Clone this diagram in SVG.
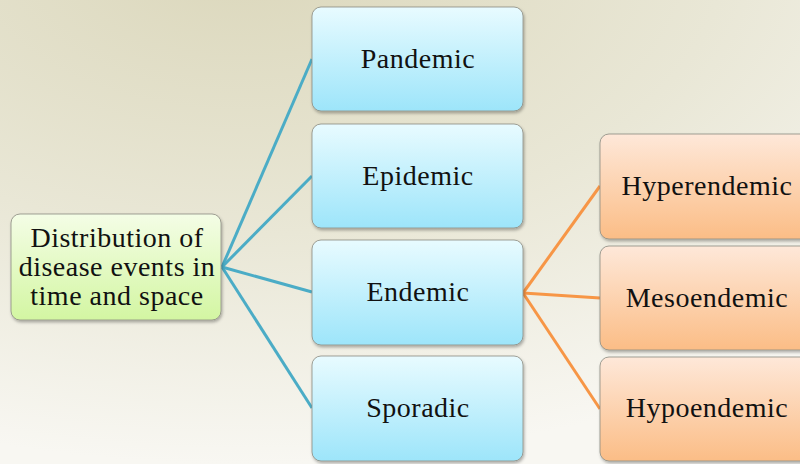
<svg xmlns="http://www.w3.org/2000/svg" width="800" height="464" viewBox="0 0 800 464">
<defs>
<radialGradient id="bg" cx="0.3" cy="-0.1" r="1.1">
<stop offset="0" stop-color="#dbd7bb"/>
<stop offset="0.55" stop-color="#e9e7d6"/>
<stop offset="1" stop-color="#f8f7f2"/>
</radialGradient>
<linearGradient id="gBlue" x1="0" y1="0" x2="0" y2="1">
<stop offset="0" stop-color="#e8fbff"/>
<stop offset="1" stop-color="#9de5fa"/>
</linearGradient>
<linearGradient id="gOrange" x1="0" y1="0" x2="0" y2="1">
<stop offset="0" stop-color="#fee8d9"/>
<stop offset="1" stop-color="#fbbd86"/>
</linearGradient>
<linearGradient id="gGreen" x1="0" y1="0" x2="0" y2="1">
<stop offset="0" stop-color="#f4fde6"/>
<stop offset="1" stop-color="#d3f6a2"/>
</linearGradient>
<filter id="sh" x="-10%" y="-10%" width="120%" height="125%">
<feDropShadow dx="1" dy="2" stdDeviation="1.5" flood-color="#000" flood-opacity="0.3"/>
</filter>
</defs>
<style>
.box{stroke:#8a8a80;stroke-width:0.8;filter:url(#sh)}
.blue{fill:url(#gBlue)}
.orange{fill:url(#gOrange)}
.green{fill:url(#gGreen)}
text{font-family:"Liberation Serif","DejaVu Serif",serif;font-size:28px;fill:#111;text-anchor:middle;letter-spacing:0.5px}
.cb{stroke:#4bacc6;stroke-width:3;fill:none}
.co{stroke:#f79646;stroke-width:3;fill:none}
</style>
<rect width="800" height="464" fill="url(#bg)"/>
<g id="connectors">
<line class="cb" x1="222" y1="267" x2="312" y2="59"/>
<line class="cb" x1="222" y1="267" x2="312" y2="176"/>
<line class="cb" x1="222" y1="267" x2="312" y2="292"/>
<line class="cb" x1="222" y1="267" x2="312" y2="408"/>
<line class="co" x1="523" y1="293" x2="600" y2="186"/>
<line class="co" x1="523" y1="293" x2="600" y2="298"/>
<line class="co" x1="523" y1="293" x2="600" y2="409"/>
</g>
<g id="root">
<rect class="box green" x="11" y="214" width="210" height="106" rx="9"/>
<text x="117" y="247">Distribution of</text>
<text x="117" y="276">disease events in</text>
<text x="117" y="305">time and space</text>
</g>
<g id="pandemic">
<rect class="box blue" x="312" y="7" width="211" height="104" rx="9"/>
<text x="418" y="68">Pandemic</text>
</g>
<g id="epidemic">
<rect class="box blue" x="312" y="124" width="211" height="104" rx="9"/>
<text x="418" y="185">Epidemic</text>
</g>
<g id="endemic">
<rect class="box blue" x="312" y="240" width="211" height="105" rx="9"/>
<text x="418" y="301">Endemic</text>
</g>
<g id="sporadic">
<rect class="box blue" x="312" y="356" width="211" height="105" rx="9"/>
<text x="418" y="417">Sporadic</text>
</g>
<g id="hyperendemic">
<rect class="box orange" x="600" y="134" width="214" height="105" rx="9"/>
<text x="707" y="195">Hyperendemic</text>
</g>
<g id="mesoendemic">
<rect class="box orange" x="600" y="246" width="214" height="104" rx="9"/>
<text x="707" y="307">Mesoendemic</text>
</g>
<g id="hypoendemic">
<rect class="box orange" x="600" y="357" width="214" height="104" rx="9"/>
<text x="707" y="417">Hypoendemic</text>
</g>
</svg>
